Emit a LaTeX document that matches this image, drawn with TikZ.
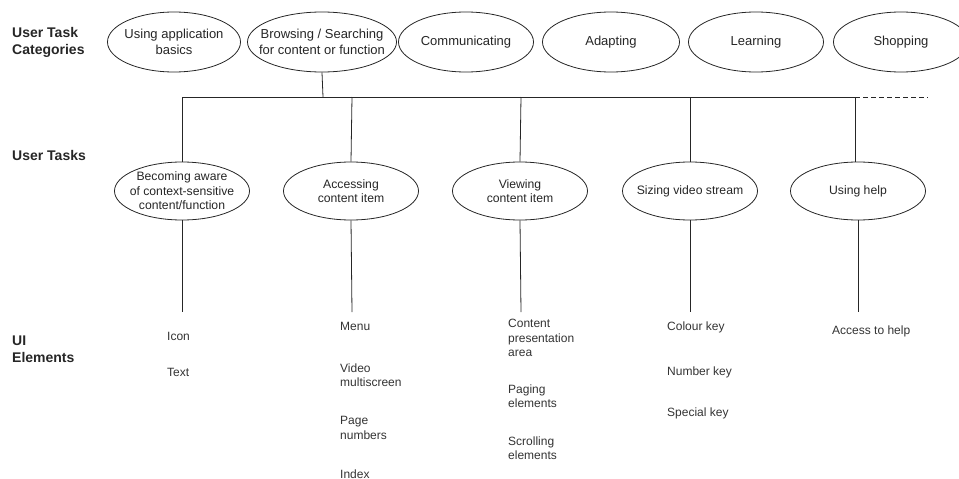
\documentclass[tikz,border=0pt]{standalone}
\usepackage{fontspec}
\setmainfont{Liberation Sans}
\usetikzlibrary{shapes.geometric}
\begin{document}
\begin{tikzpicture}[x=1pt,y=-1pt,
  cat/.style={draw=black!85,line width=0.8pt,ellipse,inner xsep=-30pt,inner ysep=0pt,minimum height=60pt,align=center,font=\fontsize{13}{16.5}\selectfont,text=black!85},
  task/.style={draw=black!85,line width=0.8pt,ellipse,inner xsep=-30pt,inner ysep=0pt,minimum width=135pt,minimum height=58pt,align=center,font=\fontsize{12.2}{14.5}\selectfont,text=black!85},
  lab/.style={anchor=west,inner sep=0pt,align=left,font=\bfseries\fontsize{14}{17}\selectfont,text=black!85},
  ui/.style={anchor=west,inner sep=0pt,align=left,font=\fontsize{12}{14.5}\selectfont,text=black!80},
  conn/.style={draw=black!85,line width=0.8pt}]
\useasboundingbox (0,0) rectangle (959,479);
% row labels
\node[lab] (l1) at (12,42.5) {User Task\\Categories};
\node[lab] (l2) at (12,155) {User Tasks};
\node[lab] (l3) at (12,349) {UI\\Elements};
% categories
\node[cat,minimum width=133pt] (c1) at (174,42) {Using application\\basics};
\node[cat,minimum width=149pt] (c2) at (322,42) {Browsing / Searching\\for content or function};
\node[cat,minimum width=135pt] (c3) at (466,42) {Communicating};
\node[cat,minimum width=137pt] (c4) at (611,42) {Adapting};
\node[cat,minimum width=135pt] (c5) at (756,42) {Learning};
\node[cat,minimum width=135pt] (c6) at (901,42) {Shopping};
% tasks
\node[task] (t1) at (182,191) {Becoming aware\\of context-sensitive\\content/function};
\node[task] (t2) at (351,191) {Accessing\\content item};
\node[task] (t3) at (520,191) {Viewing\\content item};
\node[task] (t4) at (690,191) {Sizing video stream};
\node[task] (t5) at (858,191) {Using help};
% bus
\coordinate (b0) at (323,97);
\coordinate (bl) at (182,97);
\coordinate (br) at (855,97);
\coordinate (bd) at (928,97);
\coordinate (j2) at (352,97);
\coordinate (j3) at (521,97);
\coordinate (j4) at (690,97);
\draw[conn] (c2.south) -- (b0);
\draw[conn] (bl) -- (br);
\draw[conn,dashed,dash pattern=on 5pt off 3pt] (br) -- (bd);
\draw[conn] (bl) -- (t1.north);
\draw[conn] (j2) -- (t2.north);
\draw[conn] (j3) -- (t3.north);
\draw[conn] (j4) -- (t4.north);
\draw[conn] (br) -- (br |- t5.north);
% drops
\coordinate (d1) at (182,312);
\coordinate (d2) at (352,312);
\coordinate (d3) at (521,312);
\coordinate (d4) at (690,312);
\coordinate (d5) at (858,312);
\draw[conn] (t1.south) -- (d1);
\draw[conn] (t2.south) -- (d2);
\draw[conn] (t3.south) -- (d3);
\draw[conn] (t4.south) -- (d4);
\draw[conn] (t5.south) -- (d5);
% UI elements
\node[ui] (u11) at (167,336) {Icon};
\node[ui] (u12) at (167,372) {Text};
\node[ui] (u21) at (340,326) {Menu};
\node[ui] (u22) at (340,375) {Video\\multiscreen};
\node[ui] (u23) at (340,428) {Page\\numbers};
\node[ui] (u24) at (340,474) {Index};
\node[ui] (u31) at (508,338) {Content\\presentation\\area};
\node[ui] (u32) at (508,396) {Paging\\elements};
\node[ui] (u33) at (508,448) {Scrolling\\elements};
\node[ui] (u41) at (667,327) {Colour key};
\node[ui] (u42) at (667,372) {Number key};
\node[ui] (u43) at (667,413) {Special key};
\node[ui] (u51) at (832,331) {Access to help};
\end{tikzpicture}
\end{document}
